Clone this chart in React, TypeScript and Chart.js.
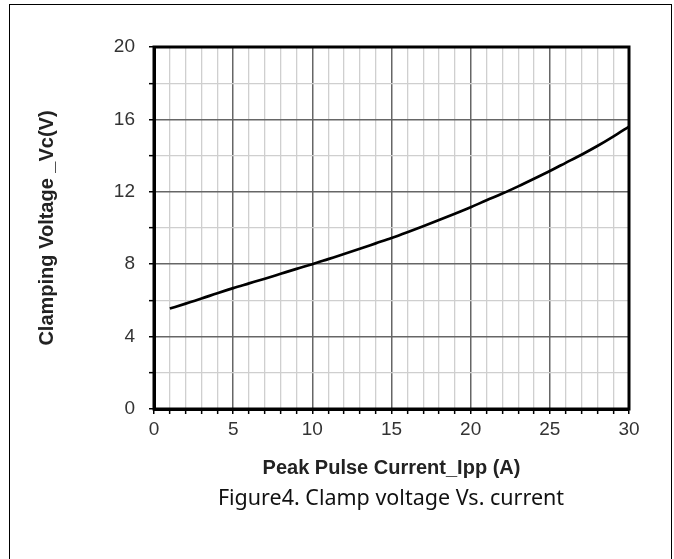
import React, { useEffect, useRef } from "react";
import { Chart, registerables } from "chart.js";

Chart.register(...registerables);

const currentA = [1, 2, 3, 4, 5, 6, 7, 8, 9, 10, 11, 12, 13, 14, 15, 16, 17, 18, 19, 20, 21, 22, 23, 24, 25, 26, 27, 28, 29, 30];
const clampV = [5.55, 5.82, 6.1, 6.4, 6.68, 6.94, 7.2, 7.47, 7.74, 8.0, 8.28, 8.56, 8.85, 9.15, 9.45, 9.77, 10.1, 10.44, 10.79, 11.15, 11.53, 11.9, 12.3, 12.72, 13.15, 13.6, 14.05, 14.53, 15.05, 15.6];
const xTitle = "Peak Pulse Current_Ipp (A)";
const yTitle = "Clamping Voltage _Vc(V)";
const caption = "Figure4. Clamp voltage Vs. current";

const framePlugin = {
  id: "frame",
  afterDraw(chart: any) {
    const { ctx, chartArea } = chart;
    ctx.save();
    ctx.strokeStyle = "#000";
    ctx.lineWidth = 3;
    ctx.strokeRect(chartArea.left, chartArea.top, chartArea.right - chartArea.left, chartArea.bottom - chartArea.top);
    ctx.restore();
  },
};

export default function App() {
  const ref = useRef<HTMLCanvasElement | null>(null);
  useEffect(() => {
    if (!ref.current) return;
    const chart = new Chart(ref.current, {
      type: "line",
      data: {
        datasets: [
          {
            data: currentA.map((x, i) => ({ x, y: clampV[i] })),
            borderColor: "#000",
            borderWidth: 2.7,
            pointRadius: 0,
            tension: 0.4,
            cubicInterpolationMode: "monotone",
            fill: false,
          },
        ],
      },
      options: {
        animation: false,
        responsive: false,
        devicePixelRatio: 1,
        layout: { padding: { left: 25, top: 42, right: 41, bottom: 5 } },
        plugins: { legend: { display: false }, tooltip: { enabled: false } },
        scales: {
          x: {
            type: "linear",
            min: 0,
            max: 30,
            afterFit: (s: any) => { s.height = 71; },
            ticks: {
              stepSize: 1,
              autoSkip: false,
              maxRotation: 0,
              padding: 4,
              color: "#333",
              font: { family: "Liberation Sans", size: 19 },
              callback: (v: any) => (Number(v) % 5 === 0 ? String(v) : ""),
            },
            grid: {
              color: (c: any) => (c.tick && c.tick.value % 5 === 0 ? "#666" : "#cfcfcf"),
              lineWidth: (c: any) => (c.tick && c.tick.value % 5 === 0 ? 1.5 : 1.3),
              tickColor: "#000",
              tickLength: 5,
              tickWidth: 1.5,
            },
            border: { display: true, color: "#000", width: 3 },
            title: {
              display: true,
              text: xTitle,
              color: "#222",
              padding: 0,
              font: { family: "Liberation Sans", size: 20, weight: "bold" },
            },
          },
          y: {
            min: 0,
            max: 20,
            afterFit: (s: any) => { s.width = 119; },
            ticks: {
              stepSize: 2,
              autoSkip: false,
              padding: 14,
              color: "#333",
              font: { family: "Liberation Sans", size: 19 },
              callback: (v: any) => (Number(v) % 4 === 0 ? String(v) : ""),
            },
            grid: {
              color: (c: any) => (c.tick && c.tick.value % 4 === 0 ? "#666" : "#cfcfcf"),
              lineWidth: (c: any) => (c.tick && c.tick.value % 4 === 0 ? 1.5 : 1.3),
              tickColor: "#000",
              tickLength: 5,
              tickWidth: 1.5,
            },
            border: { display: true, color: "#000", width: 3 },
            title: {
              display: true,
              text: yTitle,
              color: "#222",
              padding: 0,
              font: { family: "Liberation Sans", size: 20, weight: "bold" },
            },
          },
        },
      },
      plugins: [framePlugin],
    } as any);
    return () => chart.destroy();
  }, []);

  return (
    <div
      style={{
        position: "absolute",
        left: 9,
        top: 4,
        width: 663,
        height: 555,
        boxSizing: "border-box",
        borderLeft: "1px solid #000",
        borderTop: "1px solid #000",
        borderRight: "1px solid #000",
        background: "#fff",
      }}
    >
      <canvas ref={ref} width={660} height={480} style={{ position: "absolute", left: 0, top: 0, width: 660, height: 480 }} />
      <div
        style={{
          position: "absolute",
          left: 181,
          width: 400,
          top: 480,
          textAlign: "center",
          fontFamily: "'Noto Sans', sans-serif",
          fontSize: 21.5,
          lineHeight: "24px",
          color: "#111",
          whiteSpace: "nowrap",
        }}
      >
        {caption}
      </div>
    </div>
  );
}
